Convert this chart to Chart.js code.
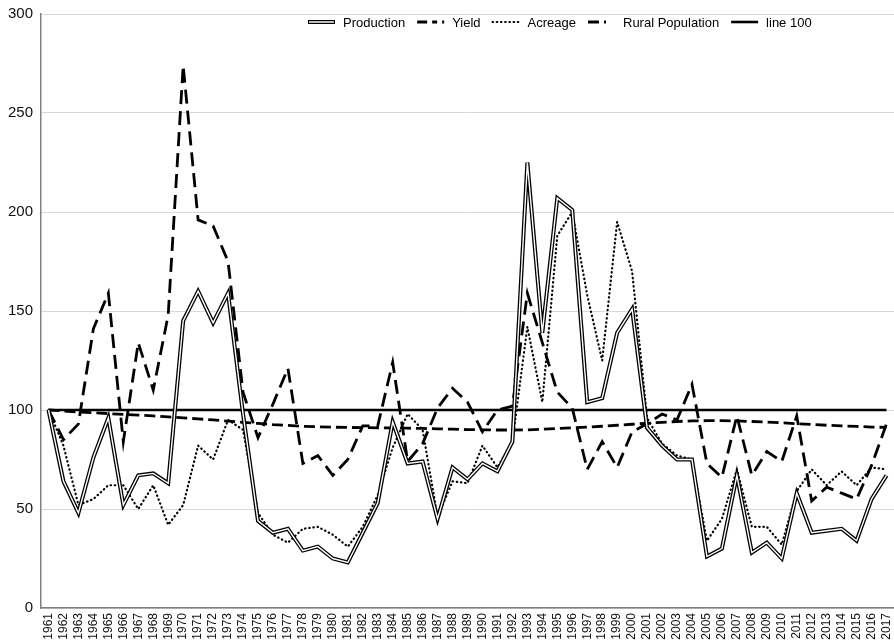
<!DOCTYPE html>
<html>
<head>
<meta charset="utf-8">
<script src="https://cdn.jsdelivr.net/npm/chart.js@4.4.1/dist/chart.umd.min.js"></script>
<style>
    html, body { margin: 0; padding: 0; background: #fff; }
    #wrap { width: 894px; height: 644px; }
</style>
</head>
<body>
<div id="wrap"><canvas id="lineChart" width="894" height="644"></canvas></div>
<script>
// index values, 1961 = 100
const years = ['1961', '1962', '1963', '1964', '1965', '1966', '1967', '1968', '1969', '1970',
    '1971', '1972', '1973', '1974', '1975', '1976', '1977', '1978', '1979', '1980',
    '1981', '1982', '1983', '1984', '1985', '1986', '1987', '1988', '1989', '1990',
    '1991', '1992', '1993', '1994', '1995', '1996', '1997', '1998', '1999', '2000',
    '2001', '2002', '2003', '2004', '2005', '2006', '2007', '2008', '2009', '2010',
    '2011', '2012', '2013', '2014', '2015', '2016', '2017'];

const production = [100, 64, 48, 76, 96, 52, 67, 68, 63, 145,
    160, 144, 159, 98, 44, 38, 40, 29, 31, 25,
    23, 38, 53, 94, 73, 74, 45, 71, 65, 73,
    69, 84, 225, 139, 207, 201, 104, 106, 139, 151,
    91, 82, 75, 75, 26, 30, 67, 28, 33, 25,
    58, 38, 39, 40, 34, 55, 67];

const yieldIdx = [100, 85, 93, 141, 159, 84, 134, 110, 148, 274,
    196, 193, 175, 109, 86, 103, 121, 73, 77, 67,
    75, 92, 92, 124, 74, 83, 101, 111, 104, 89,
    100, 102, 159, 134, 109, 101, 70, 84, 71, 89,
    93, 98, 95, 113, 73, 66, 97, 67, 79, 74,
    97, 54, 61, 58, 55, 72, 93];

const acreage = [100, 82, 52, 55, 62, 62, 50, 62, 42, 52,
    82, 75, 95, 90, 48, 37, 33, 40, 41, 37,
    31, 41, 57, 81, 98, 90, 46, 64, 63, 82,
    71, 84, 142, 104, 188, 200, 158, 125, 195, 170,
    96, 83, 77, 75, 34, 45, 70, 41, 41, 32,
    59, 70, 62, 69, 62, 71, 70];

const ruralPop = [100, 99.5, 99, 98.6, 98.2, 97.8, 97.4, 97, 96.5, 96,
    95.5, 95, 94.4, 93.8, 93.2, 92.6, 92.2, 91.8, 91.5, 91.3,
    91.2, 91.1, 91, 90.9, 90.8, 90.7, 90.5, 90.3, 90.1, 90,
    89.9, 89.9, 90, 90.3, 90.6, 91, 91.4, 91.8, 92.3, 92.8,
    93.3, 93.8, 94.2, 94.5, 94.6, 94.6, 94.5, 94.2, 93.9, 93.5,
    93.1, 92.7, 92.3, 92, 91.7, 91.4, 91.2];

const line100 = [100, 100, 100, 100, 100, 100, 100, 100, 100, 100,
    100, 100, 100, 100, 100, 100, 100, 100, 100, 100,
    100, 100, 100, 100, 100, 100, 100, 100, 100, 100,
    100, 100, 100, 100, 100, 100, 100, 100, 100, 100,
    100, 100, 100, 100, 100, 100, 100, 100, 100, 100,
    100, 100, 100, 100, 100, 100, 100];

const yTicks = [0, 50, 100, 150, 200, 250, 300];

const FONT = "'Liberation Sans', Arial, Helvetica, sans-serif";

// legend drawn inside the plot, like the original
const insideLegend = {
    id: 'insideLegend',
    afterDatasetsDraw(chart, args, opts) {
        const ctx = chart.ctx;
        ctx.save();
        ctx.font = opts.fontSize + 'px ' + FONT;
        ctx.textBaseline = 'middle';
        let x = opts.x;
        const y = opts.y;
        chart.data.datasets.forEach(ds => {
            if (!ds.legend) return;
            const w = opts.sampleWidth;
            ctx.lineCap = ds.legend.cap || 'butt';
            if (ds.legend.double) {
                ctx.setLineDash([]);
                ctx.strokeStyle = '#000';
                ctx.lineWidth = 4;
                ctx.beginPath(); ctx.moveTo(x, y); ctx.lineTo(x + w, y); ctx.stroke();
                ctx.strokeStyle = '#fff';
                ctx.lineWidth = 1.5;
                ctx.beginPath(); ctx.moveTo(x + 1, y); ctx.lineTo(x + w - 1, y); ctx.stroke();
            } else {
                ctx.setLineDash(ds.legend.dash);
                ctx.strokeStyle = '#000';
                ctx.lineWidth = ds.borderWidth;
                ctx.beginPath(); ctx.moveTo(x, y); ctx.lineTo(x + w, y); ctx.stroke();
            }
            ctx.setLineDash([]);
            x += w + opts.textGap;
            ctx.fillStyle = '#000';
            ctx.fillText(ds.label, x, y + 1);
            x += ctx.measureText(ds.label).width + opts.itemGap;
        });
        ctx.restore();
    }
};

const ctx1 = document.getElementById('lineChart').getContext('2d');
new Chart(ctx1, {
    type: 'line',
    data: {
        labels: years,
        datasets: [
            {
                label: 'Production',
                data: production,
                borderColor: '#000',
                borderWidth: 4,
                order: 2,
                legend: { double: true }
            },
            {
                label: 'Production (inner)',
                data: production,
                borderColor: '#fff',
                borderWidth: 1.4,
                order: 1
            },
            {
                label: 'Yield',
                data: yieldIdx,
                borderColor: '#000',
                borderWidth: 2.8,
                borderDash: [14, 7],
                order: 3,
                legend: { dash: [10, 5, 5, 5] }
            },
            {
                label: 'Acreage',
                data: acreage,
                borderColor: '#000',
                borderWidth: 2.2,
                borderDash: [0.5, 3.7],
                borderCapStyle: 'round',
                order: 4,
                legend: { dash: [0.5, 3.7], cap: 'round' }
            },
            {
                label: 'Rural Population',
                data: ruralPop,
                borderColor: '#000',
                borderWidth: 2.8,
                borderDash: [11, 5],
                order: 5,
                legend: { dash: [11, 5, 2, 20] }
            },
            {
                label: 'line 100',
                data: line100,
                borderColor: '#000',
                borderWidth: 2.6,
                order: 6,
                legend: { dash: [] }
            }
        ]
    },
    options: {
        responsive: false,
        animation: false,
        layout: { padding: { top: 14, right: 0, bottom: 0, left: 0 } },
        elements: {
            point: { radius: 0, hoverRadius: 0 },
            line: { tension: 0, fill: false }
        },
        plugins: {
            legend: { display: false },
            tooltip: { enabled: false },
            insideLegend: { x: 308, y: 22, sampleWidth: 27, textGap: 8, itemGap: 12, fontSize: 13 }
        },
        scales: {
            x: {
                offset: true,
                grid: { display: false, drawTicks: false },
                border: { color: '#808080', width: 1.5 },
                ticks: {
                    autoSkip: false,
                    minRotation: 90,
                    maxRotation: 90,
                    padding: 5,
                    color: '#111',
                    font: { family: FONT, size: 12 }
                },
                afterFit(scale) {
                    scale.height = 36;
                    scale.paddingLeft = 0;
                    scale.paddingRight = 0;
                }
            },
            y: {
                min: 0,
                max: 300,
                afterBuildTicks(scale) { scale.ticks = yTicks.map(v => ({ value: v })); },
                grid: { color: '#d9d9d9', lineWidth: 1, drawTicks: false },
                border: { color: '#808080', width: 1.5 },
                ticks: {
                    padding: 8,
                    color: '#111',
                    font: { family: FONT, size: 15 }
                },
                afterFit(scale) {
                    scale.width = 41;
                    scale.paddingTop = 0;
                    scale.paddingBottom = 0;
                }
            }
        }
    },
    plugins: [insideLegend]
});
</script>
</body>
</html>
